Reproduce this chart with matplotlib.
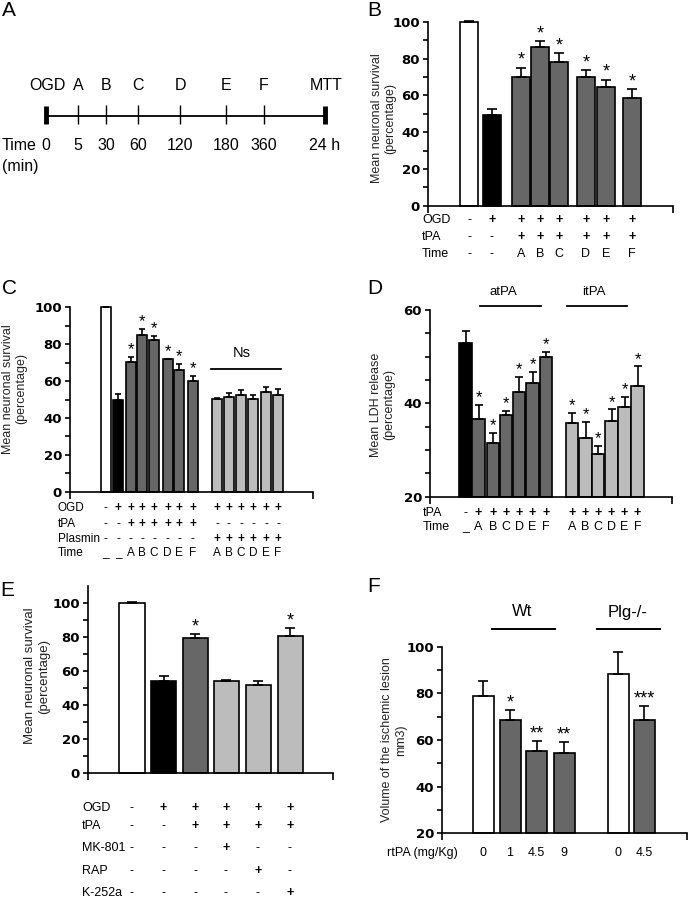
import numpy as np
import matplotlib
matplotlib.use('Agg')
import matplotlib.pyplot as plt

plt.rcParams['font.family'] = ['Liberation Sans', 'DejaVu Sans']

W, H = 688, 899
DARK = '#676767'
LIGHT = '#bcbcbc'

# ---------------- data ----------------
# A : protocol timeline
a_letters = ['A', 'B', 'C', 'D', 'E', 'F']
a_times = ['5', '30', '60', '120', '180', '360']

# B : neuronal survival vs time of tPA
b_vals = [100, 49.5, 70, 86.5, 78, 70, 64.5, 58.5]
b_err = [0.5, 3, 5, 2.8, 5, 3.5, 4, 4.7]
b_stars = ['', '', '*', '*', '*', '*', '*', '*']
b_ogd = ['-', '+', '+', '+', '+', '+', '+', '+']
b_tpa = ['-', '-', '+', '+', '+', '+', '+', '+']
b_time = ['-', '-', 'A', 'B', 'C', 'D', 'E', 'F']

# C : tPA vs plasmin
c_vals = [100, 49.5, 70.5, 85, 82, 71.8, 66, 59.8, 50.3, 51.6, 52.4, 50.1, 54.2, 52.4]
c_err = [0.4, 3.3, 2.7, 3.2, 2.5, 0.4, 3.3, 3.2, 0.4, 1.8, 2.6, 2.3, 2.4, 3.3]
c_stars = ['', '', '*', '*', '*', '*', '*', '*', '', '', '', '', '', '']
c_ogd = ['-'] + ['+'] * 13
c_tpa = ['-', '-'] + ['+'] * 6 + ['-'] * 6
c_plasmin = ['-'] * 8 + ['+'] * 6
c_time = ['_', '_', 'A', 'B', 'C', 'D', 'E', 'F', 'A', 'B', 'C', 'D', 'E', 'F']

# D : LDH release, atPA / itPA
d_vals = [53, 36.6, 31.4, 37.5, 42.5, 44.4, 50, 35.7, 32.5, 29.1, 36.3, 39.3, 43.7]
d_err = [2.4, 3.0, 2.3, 0.9, 3.1, 2.4, 1.1, 2.2, 3.6, 1.8, 2.4, 2.0, 4.2]
d_stars = [''] + ['*'] * 12
d_tpa = ['-'] + ['+'] * 12
d_time = ['_', 'A', 'B', 'C', 'D', 'E', 'F', 'A', 'B', 'C', 'D', 'E', 'F']

# E : antagonists
e_vals = [100, 54, 79, 54, 51.5, 80.5]
e_err = [0.5, 2.7, 2.5, 0.6, 2.5, 4.5]
e_stars = ['', '', '*', '', '', '*']
e_rows = {
    'OGD':    ['-', '+', '+', '+', '+', '+'],
    'tPA':    ['-', '-', '+', '+', '+', '+'],
    'MK-801': ['-', '-', '-', '+', '-', '-'],
    'RAP':    ['-', '-', '-', '-', '+', '-'],
    'K-252a': ['-', '-', '-', '-', '-', '+'],
}

# F : ischemic lesion in vivo
f_vals = [79, 68.5, 55.3, 54.5, 88.2, 68.5]
f_err = [6.3, 4.3, 4.3, 4.6, 9.6, 6.1]
f_stars = ['', '*', '**', '**', '', '***']
f_dose = ['0', '1', '4.5', '9', '0', '4.5']

# ---------------- layout (pixels) ----------------
b_pos = [469, 492, 521, 540, 559, 586, 606, 632]
c_pos = [105.5, 118, 130.5, 142, 154, 167.5, 179, 192.5, 217, 228.5, 241, 253, 266, 278]
d_pos = [465.5, 478.5, 493, 506, 519, 532.5, 546, 572, 585.5, 598, 611.5, 624.5, 637.5]
e_pos = [132, 163.5, 195, 226, 258, 290]
f_pos = [483, 510, 536.5, 564, 618, 644]
a_pos = [78, 106, 138, 180, 226, 264]

fig = plt.figure(figsize=(W / 100, H / 100), dpi=100)
ov = fig.add_axes([0, 0, 1, 1])
ov.set_xlim(0, W)
ov.set_ylim(H, 0)
ov.axis('off')


def panel(left, right, top, bottom, ylim, major, minor):
    ax = fig.add_axes([left / W, 1 - bottom / H, (right - left) / W, (bottom - top) / H])
    ax.set_xlim(left, right)
    ax.set_ylim(*ylim)
    for s in ['top', 'right']:
        ax.spines[s].set_visible(False)
    for s in ['left', 'bottom']:
        ax.spines[s].set_linewidth(1.2)
    ax.set_yticks(major)
    ax.set_yticks(minor, minor=True)
    ax.set_yticklabels([str(v) for v in major])
    ax.tick_params(axis='y', which='both', direction='out', length=3.8, width=1.2,
                   labelsize=9.5, pad=2)
    for lab in ax.get_yticklabels():
        lab.set_fontweight('bold')
        lab.set_family('DejaVu Sans')
    ax.set_xticks([left, right])
    ax.set_xticklabels([])
    ax.tick_params(axis='x', direction='out', length=5, width=1.2)
    ax.patch.set_alpha(0)
    return ax


def bars(ax, pos, vals, errs, colors, width, stars, capsize, sfs=13):
    base = ax.get_ylim()[0]
    h = np.array(vals) - base
    ax.bar(pos, h, width, bottom=base, color=colors, edgecolor='k', linewidth=1.2,
           zorder=2, clip_on=False)
    eb = ax.errorbar(pos, vals, yerr=[np.zeros(len(vals)), errs], fmt='none', ecolor='k',
                     elinewidth=1.2, capsize=capsize, capthick=1.2, zorder=3)
    for art in eb.lines[1] + eb.lines[2]:
        art.set_clip_on(False)
    for x, v, e, s in zip(pos, vals, errs, stars):
        if s:
            ax.annotate(s, (x, v + e), xytext=(0, 2), textcoords='offset points',
                        ha='center', va='baseline', fontsize=sfs)


def rows(names, entries, pos, ys, label_x, fs=9):
    for name, row, y in zip(names, entries, ys):
        ov.text(label_x, y, name, ha='left', va='center', fontsize=fs)
        for x, s in zip(pos, row):
            ov.text(x, y, s, ha='center', va='center', fontsize=fs,
                    fontweight='bold' if s == '+' else 'normal')


def ylabel(x, y, txt, fs=9):
    ov.text(x, y, txt, rotation=90, ha='center', va='center', fontsize=fs,
            multialignment='center', linespacing=1.15, color='#222222')


# ---------------- A ----------------
ov.text(2, 11, 'A', fontsize=15, va='center', ha='left')
ov.plot([46, 325], [116, 116], color='k', lw=1.3)
ov.vlines([46, 325], 106, 124, color='k', lw=3.5)
ov.vlines(a_pos, 105, 124, color='k', lw=1.0)
ov.text(47, 86, 'OGD', fontsize=11.5, ha='center', va='center')
ov.text(326, 86, 'MTT', fontsize=11.5, ha='center', va='center')
for x, l in zip(a_pos, a_letters):
    ov.text(x, 86, l, fontsize=11.5, ha='center', va='center')
ov.text(2, 146, 'Time', fontsize=11.5, ha='left', va='center')
ov.text(46, 146, '0', fontsize=11.5, ha='center', va='center')
for x, t in zip(a_pos, a_times):
    ov.text(x, 146, t, fontsize=11.5, ha='center', va='center')
ov.text(325, 146, '24 h', fontsize=11.5, ha='center', va='center')
ov.text(2, 167, '(min)', fontsize=11.5, ha='left', va='center')

# ---------------- B ----------------
ov.text(367, 11, 'B', fontsize=15, va='center', ha='left')
axb = panel(428, 673, 21.7, 205.7, (0, 100), [0, 20, 40, 60, 80, 100], [10, 30, 50, 70, 90])
bars(axb, b_pos, b_vals, b_err, ['white', 'black'] + [DARK] * 6, 18.5, b_stars, 3.5)
ylabel(384, 118, 'Mean neuronal survival\n(percentage)')
rows(['OGD', 'tPA', 'Time'], [b_ogd, b_tpa, b_time], b_pos, [220, 237, 254], 422)

# ---------------- C ----------------
ov.text(2, 289, 'C', fontsize=15, va='center', ha='left')
axc = panel(70, 313, 307.3, 491.7, (0, 100), [0, 20, 40, 60, 80, 100], [10, 30, 50, 70, 90])
bars(axc, c_pos, c_vals, c_err, ['white', 'black'] + [DARK] * 6 + [LIGHT] * 6, 10, c_stars, 2.5, 12)
ov.text(242, 353, 'Ns', fontsize=10.5, ha='center', va='center')
ov.plot([211, 281], [369, 369], color='k', lw=1.3)
ylabel(15, 389, 'Mean neuronal survival\n(percentage)')
rows(['OGD', 'tPA', 'Plasmin', 'Time'], [c_ogd, c_tpa, c_plasmin, c_time], c_pos,
     [508, 524, 539, 553], 58, 8.5)

# ---------------- D ----------------
ov.text(367, 289, 'D', fontsize=15, va='center', ha='left')
axd = panel(430, 672, 310, 496.7, (20, 60), [20, 40, 60], [25, 30, 35, 45, 50, 55])
bars(axd, d_pos, d_vals, d_err, ['black'] + [DARK] * 6 + [LIGHT] * 6, 12.5, d_stars, 2.8, 12)
ov.text(503, 292, 'atPA', fontsize=9.5, ha='center', va='center')
ov.plot([480, 541], [306, 306], color='k', lw=1.3)
ov.text(594, 292, 'itPA', fontsize=9.5, ha='center', va='center')
ov.plot([567, 627], [306, 306], color='k', lw=1.3)
ylabel(383, 405, 'Mean LDH release\n(percentage)')
rows(['tPA', 'Time'], [d_tpa, d_time], d_pos, [513, 527], 423)

# ---------------- E ----------------
ov.text(0, 590, 'E', fontsize=15, va='center', ha='left')
axe = panel(88, 333, 585.7, 773, (0, 110), [0, 20, 40, 60, 80, 100], [10, 30, 50, 70, 90])
bars(axe, e_pos, e_vals, e_err, ['white', 'black', DARK, LIGHT, LIGHT, LIGHT], 25, e_stars, 3.5)
ylabel(37, 676, 'Mean neuronal survival\n(percentage)', 9.5)
rows(list(e_rows.keys()), list(e_rows.values()), e_pos, [808, 826, 848, 871, 893], 82)

# ---------------- F ----------------
ov.text(367, 587, 'F', fontsize=15, va='center', ha='left')
axf = panel(442, 687, 646.7, 833.3, (20, 100), [20, 40, 60, 80, 100], [30, 50, 70, 90])
bars(axf, f_pos, f_vals, f_err, ['white', DARK, DARK, DARK, 'white', DARK], 21, f_stars, 3.5)
ov.text(522, 612, 'Wt', fontsize=12, ha='center', va='center')
ov.plot([492, 555], [629, 629], color='k', lw=1.4)
ov.text(628, 612, 'Plg-/-', fontsize=12, ha='center', va='center')
ov.plot([597, 660], [629, 629], color='k', lw=1.4)
ylabel(394, 740, 'Volume of the ischemic lesion\nmm3)')
ov.text(387, 853, 'rtPA (mg/Kg)', fontsize=9, ha='left', va='center')
for x, d in zip(f_pos, f_dose):
    ov.text(x, 853, d, fontsize=9, ha='center', va='center')

fig.savefig('out.png', dpi=100)
